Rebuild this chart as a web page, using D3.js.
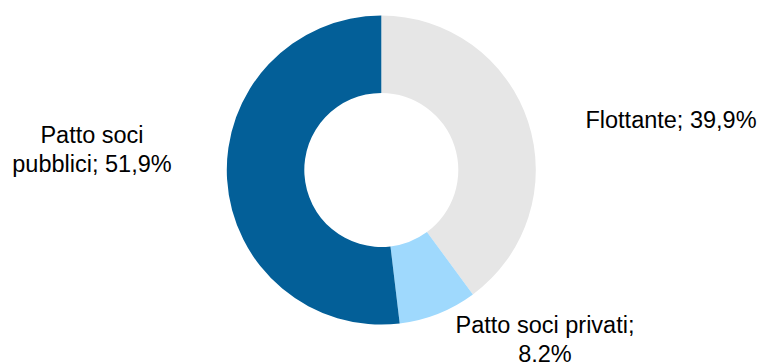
<!DOCTYPE html>
<html>
<head>
<meta charset="utf-8">
<script src="https://cdn.jsdelivr.net/npm/d3@7"></script>
<style>
  html, body { margin: 0; padding: 0; background: #fff; }
  svg { display: block; }
  text { font-family: "Liberation Sans", Arial, sans-serif; fill: #000; }
</style>
</head>
<body>
<svg id="chart" width="760" height="362"></svg>
<script>
const categories = ["Flottante", "Patto soci privati", "Patto soci pubblici"];
const values = [39.9, 8.2, 51.9];
const valueLabels = ["39,9%", "8,2%", "51,9%"];
const colors = ["#E6E6E6", "#9FD9FD", "#035F98"];

const W = 760, H = 362;
const cx = 381.3, cy = 170, rOuter = 154.5, rInner = 77;

const svg = d3.select("#chart");
const g = svg.append("g").attr("transform", `translate(${cx},${cy})`);

const pie = d3.pie().sort(null).value(d => d.value);
const data = categories.map((c, i) => ({ name: c, value: values[i], label: valueLabels[i], color: colors[i] }));
const arcs = pie(data);
const arc = d3.arc().innerRadius(rInner).outerRadius(rOuter);

g.selectAll("path").data(arcs).enter().append("path")
  .attr("d", arc)
  .attr("fill", d => d.data.color);

// labels (line breaks as in the reference)
const labelLines = [
  [categories[0] + "; " + valueLabels[0]],
  [categories[1] + ";", valueLabels[1]],
  ["Patto soci", "pubblici; " + valueLabels[2]]
];
const labelPos = [
  { x: 671, y: 128 },
  { x: 545, y: 333 },
  { x: 92, y: 143 }
];
const fontSize = 23.5;
const lineH = 28.5;

labelLines.forEach((lines, i) => {
  const t = svg.append("text")
    .attr("text-anchor", "middle")
    .attr("font-size", fontSize)
    .attr("x", labelPos[i].x)
    .attr("y", labelPos[i].y);
  lines.forEach((ln, j) => {
    t.append("tspan").attr("x", labelPos[i].x).attr("dy", j === 0 ? 0 : lineH).text(ln);
  });
});
</script>
</body>
</html>
